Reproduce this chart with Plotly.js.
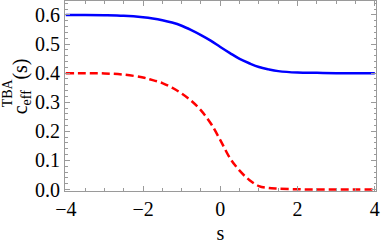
<!DOCTYPE html>
<html>
<head>
<meta charset="utf-8">
<script src="https://cdn.plot.ly/plotly-3.0.1.min.js"></script>
<style>html,body{margin:0;padding:0;background:#fff;}#chart{width:382px;height:244px;}</style>
</head>
<body>
<div id="chart"></div>
<script>
// sample positions s
const sVals = [-4, -3.5, -3, -2.5, -2, -1.75, -1.5, -1.25, -1, -0.75, -0.5, -0.25, 0, 0.25, 0.5, 0.75, 1, 1.25, 1.5, 2, 2.5, 3, 3.5, 4];
// solid blue curve
const blueVals = [0.600, 0.600, 0.599, 0.597, 0.592, 0.588, 0.582, 0.574, 0.563, 0.548, 0.531, 0.512, 0.490, 0.469, 0.449, 0.434, 0.421, 0.413, 0.407, 0.402, 0.401, 0.400, 0.400, 0.400];
// dashed red curve
const redVals = [0.400, 0.400, 0.399, 0.395, 0.385, 0.376, 0.366, 0.350, 0.330, 0.305, 0.272, 0.228, 0.170, 0.108, 0.065, 0.033, 0.012, 0.005, 0.003, 0.001, 0.000, 0.000, 0.000, 0.000];
const xTicks = [-4, -2, 0, 2, 4];
const yTicks = [0.0, 0.1, 0.2, 0.3, 0.4, 0.5, 0.6];
const yTitleMain = 'c<sub>eff&nbsp;&nbsp;&nbsp;</sub>(s)';
const yTitleSup = 'TBA';

const serif = 'Liberation Serif, Times New Roman, serif';
const frame = '#9a9a9a';

const traces = [
  {x: sVals, y: blueVals, mode: 'lines', line: {color: 'rgb(0,0,255)', width: 2.5, shape: 'spline'}, hoverinfo: 'skip'},
  {x: sVals, y: redVals, mode: 'lines', line: {color: 'rgb(255,0,0)', width: 2.5, dash: '8px,4px', shape: 'spline'}, hoverinfo: 'skip'}
];

const layout = {
  width: 382, height: 244,
  margin: {l: 65, r: 6, t: 1, b: 53},
  paper_bgcolor: '#fff', plot_bgcolor: '#fff',
  showlegend: false,
  font: {family: serif, size: 20, color: '#000'},
  xaxis: {
    range: [-4.02, 4.03], tickvals: xTicks, ticks: 'inside', ticklen: 5, tickwidth: 1, tickcolor: frame,
    minor: {dtick: 0.5, ticks: 'inside', ticklen: 3, tickcolor: frame},
    showline: true, linecolor: frame, linewidth: 1, mirror: 'ticks',
    showgrid: false, zeroline: false,
    tickfont: {family: serif, size: 20, color: '#000'},
    title: {text: 's', font: {family: serif, size: 20, color: '#000'}, standoff: 6}
  },
  yaxis: {
    range: [-0.005, 0.648], tickvals: yTicks, tickformat: '.1f', ticks: 'inside', ticklen: 5, tickwidth: 1, tickcolor: frame,
    minor: {dtick: 0.02, ticks: 'inside', ticklen: 2.5, tickcolor: frame},
    showline: true, linecolor: frame, linewidth: 1, mirror: 'ticks',
    showgrid: false, zeroline: false,
    tickfont: {family: serif, size: 20, color: '#000'}
  },
  annotations: [
    {text: yTitleMain, xref: 'paper', yref: 'paper', x: -0.139, y: 0.55, xanchor: 'center', yanchor: 'middle', textangle: -90,
     showarrow: false, font: {family: serif, size: 20, color: '#000'}},
    {text: yTitleSup, xref: 'paper', yref: 'paper', x: -0.186, y: 0.515, xanchor: 'center', yanchor: 'middle', textangle: -90,
     showarrow: false, font: {family: serif, size: 14, color: '#000'}}
  ]
};

Plotly.newPlot('chart', traces, layout, {staticPlot: true, displayModeBar: false});
</script>
</body>
</html>
